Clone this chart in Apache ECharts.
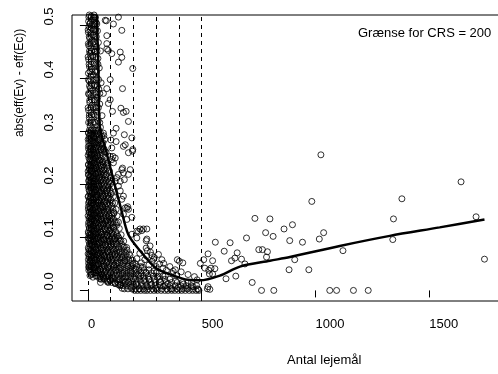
<!DOCTYPE html>
<html>
<head>
<meta charset="utf-8">
<script src="https://cdn.jsdelivr.net/npm/echarts@6/dist/echarts.min.js"></script>
<style>
  html, body { margin: 0; padding: 0; background: #fff; overflow: hidden; }
  #chart { width: 520px; height: 374px; }
</style>
</head>
<body>
<div id="chart"></div>
<script>
'use strict';

// x ticks and y ticks
const xTicks = [0, 500, 1000, 1500];
const yTicks = [0, 0.1, 0.2, 0.3, 0.4, 0.5];
// CRS boundaries (dashed)
const limits = [0, 100, 200, 300, 400, 500];

// dense band near zero
const bandPoints = [
  [6,0.52],[14,0.518],[27,0.52],[33,0.515],[3,0.508],[10,0.505],[20,0.51],[36,0.506],
  [5,0.498],[16,0.495],[24,0.5],[30,0.493],[2,0.487],[12,0.485],[22,0.482],[42,0.49],
  [8,0.476],[18,0.472],[28,0.47],[46,0.468],[4,0.462],[13,0.458],[25,0.455],[38,0.46],
  [9,0.448],[20,0.444],[31,0.45],[55,0.452],[3,0.436],[15,0.432],[27,0.43],[44,0.438],
  [7,0.422],[19,0.418],[33,0.415],[50,0.42],[2,0.41],[12,0.404],[24,0.407],[40,0.401],
  [6,0.395],[17,0.39],[30,0.388],[58,0.392],[10,0.382],[21,0.378],[36,0.375],[48,0.38],
  [4,0.37],[14,0.366],[27,0.36],[43,0.364],[8,0.355],[19,0.35],[32,0.346],[52,0.352],
  [3,0.34],[13,0.336],[24,0.333],[38,0.338],[62,0.33],[6,0.326],[16,0.322],[29,0.318],[45,0.32],
  [10,0.31],[21,0.305],[34,0.302],[55,0.308],[3,0.298],[14,0.294],[26,0.29],[40,0.296],[70,0.292],
  [7,0.286],[18,0.282],[30,0.278],[48,0.284],[62,0.276],[2,0.272],[11,0.268],[23,0.265],[36,0.27],[56,0.266],
  [5,0.26],[15,0.256],[28,0.258],[42,0.254],[75,0.262],[9,0.248],[20,0.245],[33,0.25],[50,0.246],[66,0.243],
  [3,0.238],[13,0.235],[25,0.24],[38,0.232],[58,0.236],[86,0.24],[7,0.228],[17,0.225],[30,0.23],[45,0.222],[70,0.227],
  [2,0.218],[11,0.215],[22,0.212],[35,0.22],[52,0.214],[78,0.218],[6,0.208],[16,0.204],[27,0.206],[41,0.2],[60,0.209],[92,0.205],
  [4,0.198],[13,0.194],[24,0.196],[33,0.19],[48,0.197],[68,0.192],[8,0.188],[19,0.184],[29,0.186],[40,0.18],[56,0.185],[82,0.188],[100,0.183],
  [3,0.178],[12,0.175],[22,0.172],[36,0.176],[50,0.17],[64,0.178],[90,0.174],[6,0.168],[17,0.165],[27,0.162],[44,0.166],[58,0.16],[76,0.168],[108,0.165],
  [2,0.158],[10,0.155],[20,0.152],[31,0.156],[47,0.15],[66,0.157],[85,0.153],[5,0.148],[14,0.145],[25,0.142],[38,0.147],[54,0.144],[72,0.148],[95,0.14],[115,0.146],
  [8,0.138],[18,0.135],[29,0.132],[42,0.137],[60,0.134],[80,0.131],[103,0.136],[3,0.128],[12,0.125],[23,0.122],[34,0.127],[50,0.12],[68,0.126],[88,0.123],[125,0.128],
  [6,0.118],[16,0.115],[27,0.112],[40,0.117],[57,0.11],[76,0.116],[96,0.113],[112,0.119],
  [2,0.108],[10,0.105],[21,0.102],[32,0.107],[46,0.1],[63,0.106],[84,0.104],[105,0.108],[132,0.102],
  [5,0.098],[14,0.095],[25,0.092],[37,0.097],[52,0.09],[70,0.096],[92,0.093],[118,0.097],[145,0.094],
  [8,0.088],[18,0.085],[30,0.082],[43,0.087],[59,0.08],[78,0.086],[100,0.083],[126,0.088],[160,0.082],
  [3,0.078],[12,0.075],[23,0.072],[35,0.077],[49,0.07],[66,0.076],[86,0.073],[110,0.078],[138,0.072],[172,0.076],
  [6,0.068],[16,0.065],[28,0.062],[40,0.067],[55,0.06],[73,0.066],[95,0.063],[120,0.068],[150,0.062],[185,0.066],
  [2,0.058],[10,0.055],[20,0.052],[32,0.057],[46,0.05],[62,0.056],[82,0.053],[104,0.058],[130,0.052],[162,0.056],[198,0.05],
  [7,0.048],[15,0.045],[26,0.042],[38,0.047],[53,0.04],[70,0.046],[90,0.043],[115,0.048],[142,0.042],[175,0.046],[210,0.04],[240,0.044],
  [4,0.038],[12,0.035],[30,0.033],[44,0.037],[60,0.03],[78,0.036],[98,0.033],[124,0.038],[152,0.032],[188,0.036],[222,0.03],[255,0.034],[290,0.037],
  [9,0.028],[22,0.025],[36,0.027],[52,0.022],[68,0.026],[86,0.018],[108,0.024],[135,0.02],[165,0.026],[200,0.022],[232,0.027],[268,0.021],[305,0.025],[340,0.028],
  [55,0.015],[98,0.019],[120,0.013],[145,0.01],[178,0.016],[212,0.012],[245,0.018],[280,0.011],[318,0.016],[352,0.013],[385,0.018],[420,0.012],[455,0.015],
  [150,0.004],[190,0.006],[225,0.003],[262,0.007],[298,0.004],[332,0.008],[365,0.003],[398,0.006],[430,0.004],[462,0.007],
  [205,0],[218,0],[232,0],[248,0],[260,0],[275,0],[290,0],[305,0],[322,0],[338,0],[352,0],[368,0],[382,0],[398,0],[412,0],[428,0],[445,0],[460,0],[475,0],[488,0],
  [215,0.06],[235,0.052],[250,0.058],[268,0.048],[282,0.055],[300,0.045],[315,0.05],[330,0.042],[345,0.038],[360,0.045],
  [372,0.032],[388,0.028],[410,0.035],[440,0.03],[468,0.026],[480,0.02],
  [228,0.07],[258,0.065],[275,0.072],[292,0.062],[310,0.068],[325,0.058],
  [3,0.044],[18,0.031],[54,0.025],[68,0.023],[98,0.019],[120,0.013],[142,0.011],[164,0.016],[7,0.042],[13,0.03],[86,0.016],[134,0.011]
];

// the solid core of the band, row by row: [y, x values]
const coreRows = [
  [0.516,[4,15,24,31]],[0.503,[8,19,28,39]],[0.492,[1,11,23,34]],[0.479,[6,16,26,37]],
  [0.466,[2,10,21,32]],[0.452,[7,17,29,40]],[0.441,[1,12,22,35]],[0.427,[5,14,26,44]],
  [0.413,[9,18,30,38]],[0.398,[2,13,24,35,47]],[0.386,[7,16,27,42]],[0.372,[3,11,22,33,52]],
  [0.359,[8,19,29,40]],[0.345,[1,12,24,36,46]],[0.331,[6,17,28,41]],[0.317,[3,10,21,33,52]],
  [0.303,[7,15,26,38,47]],
  [0.297,[2,11,20,31,43,55,68]],[0.291,[6,16,25,36,49,61]],[0.285,[1,9,21,30,41,53,74]],
  [0.279,[4,14,24,35,45,58,66]],[0.273,[8,17,28,39,50,63]],[0.267,[3,12,22,33,44,57,71]],
  [0.261,[7,15,26,37,48,60,80]],[0.255,[1,10,19,30,41,53,65]],[0.249,[5,14,24,34,46,58,73]],
  [0.243,[9,18,28,39,51,62,77]],[0.237,[2,12,21,32,43,55,68,88]],[0.231,[6,16,25,36,48,60,72,84]],
  [0.225,[1,10,20,30,41,52,64,78,95]],[0.219,[4,14,23,34,45,57,69,83]],[0.213,[8,17,27,38,49,61,74,90,102]],
  [0.207,[3,12,22,32,43,55,67,80,96]],[0.201,[7,16,26,36,47,59,71,86,99]],
  [0.195,[2,11,20,30,41,52,64,77,91,106]],[0.189,[5,15,25,35,46,58,70,84,97]],
  [0.183,[9,18,28,39,50,62,75,88,104]],[0.177,[1,12,22,33,44,56,68,81,94,112]],
  [0.171,[6,16,26,37,48,60,73,86,101]],[0.165,[3,13,23,34,45,57,70,83,97,118]],
  [0.159,[8,17,28,39,51,63,76,90,105]],[0.153,[2,11,21,32,43,55,67,80,94,110,124]],
  [0.147,[6,15,25,36,47,59,72,85,99,114]],[0.141,[1,10,20,31,42,54,66,79,92,107,128]],
  [0.135,[5,14,24,35,46,58,70,83,97,112]],[0.129,[9,18,28,39,50,62,75,88,102,117,134]],
  [0.123,[3,12,22,33,44,56,68,81,95,109,126]],[0.117,[7,16,26,37,48,60,73,86,100,115,138]],
  [0.111,[2,11,21,32,43,55,67,80,94,108,122]],[0.105,[6,15,25,36,47,59,72,85,99,113,128,146]],
  [0.099,[1,10,20,31,42,54,66,79,93,106,120,136]],
  [0.093,[4,14,24,35,46,58,70,83,97,110,124,140,157]],[0.087,[8,18,28,39,50,62,75,88,101,115,130,148]],
  [0.081,[2,12,22,33,44,56,68,81,94,108,122,137,155,170]],[0.075,[6,16,26,37,48,60,73,86,99,113,127,143,160]],
  [0.069,[1,10,20,31,42,54,66,79,92,106,120,134,150,168,182]],[0.063,[5,14,24,35,46,58,71,84,97,111,125,140,156,174]],
  [0.057,[9,18,28,39,50,62,75,88,102,116,130,146,163,180,196]],
  [0.051,[3,12,22,33,44,56,68,81,95,109,123,138,154,171,188,206]],
  [0.045,[7,16,26,37,48,60,73,86,100,114,128,144,160,178,194,215,232]],
  [0.039,[11,21,32,43,55,67,80,94,108,122,137,153,170,186,204,224,246,268]],
  [0.033,[25,36,47,59,72,85,99,113,127,143,160,177,194,213,234,256,280,300]],
  [0.027,[41,53,66,79,93,107,121,136,152,169,186,204,223,244,265,287,310,330]],
  [0.021,[58,71,84,98,112,126,141,157,174,191,209,228,249,270,292,315,338,360]],
  [0.015,[90,104,118,133,148,164,180,197,215,234,254,275,297,320,344,368,392,416,440]],
  [0.009,[140,155,170,186,202,219,237,256,276,296,317,339,361,384,407,431,454,478]],
  [0.003,[160,176,192,209,227,245,264,284,304,325,347,369,392,415,438,460,482]]
];

// points standing out from the band
const outerPoints = [
  [81,0.509],[112,0.503],[134,0.516],[149,0.491],[83,0.481],[83,0.456],[90,0.453],[105,0.447],
  [142,0.45],[149,0.44],[134,0.431],[197,0.419],[98,0.398],[152,0.381],[83,0.381],[68,0.372],
  [145,0.344],[156,0.336],[168,0.338],[108,0.338],[178,0.319],[124,0.306],[193,0.288],[197,0.266],
  [178,0.26],[156,0.272],[124,0.281],[110,0.253],[120,0.25],[156,0.222],[178,0.219],[186,0.228],
  [127,0.213],[142,0.206],[98,0.36],[90,0.353],[112,0.297],[101,0.284],[76,0.51],[83,0.466],
  [160,0.294],[164,0.275],[196,0.263],[105,0.269],[112,0.241],[149,0.228],[134,0.219],[160,0.209],
  [120,0.206],[134,0.197],[142,0.188],[156,0.178],[149,0.172],[164,0.156],[175,0.158],[156,0.144],
  [171,0.134],[193,0.106],[215,0.112],[229,0.116],[193,0.138],[178,0.153],[171,0.155],[152,0.231],
  [98,0.253],[105,0.247],[259,0.097],[273,0.084],
  [393,0.058],[402,0.055],[417,0.052],[333,0.051],[384,0.039],[375,0.036],[222,0.111],[237,0.113],
  [259,0.116],[244,0.116],[215,0.099],[256,0.094],[256,0.08],[261,0.075],[281,0.066],[288,0.059]
];

// large properties
const tailPoints = [
  [1024,0.256],[1640,0.205],[984,0.168],[1380,0.173],[734,0.136],[800,0.135],[1343,0.135],[1706,0.139],
  [899,0.124],[862,0.116],[781,0.109],[814,0.102],[1036,0.109],[697,0.099],[887,0.094],[943,0.091],
  [1017,0.097],[1340,0.096],[751,0.077],[767,0.077],[789,0.073],[785,0.063],[1121,0.075],[909,0.058],
  [1743,0.059],[675,0.059],[690,0.05],[884,0.039],[971,0.039],[722,0.015],[763,0],[817,0],
  [1063,0],[1093,0],[1167,0],[1232,0],
  [560,0.091],[625,0.09],[599,0.074],[656,0.071],[631,0.056],[646,0.061],[528,0.069],[548,0.056],
  [541,0.042],[558,0.041],[531,0.038],[509,0.058],[494,0.051],[607,0.022],[650,0.027],[528,0.007],
  [536,0.002],[485,0.002],[514,0.042],[534,0.031],[548,0.031],[525,0.003]
];

// smoothed curve
const smoothCurve = [
  [39,0.52],[46,0.42],[52,0.31],[82,0.26],[112,0.209],[145,0.155],[178,0.105],[229,0.075],
  [300,0.042],[376,0.028],[440,0.02],[492,0.019],[580,0.028],[668,0.045],[800,0.056],[888,0.063],
  [1107,0.084],[1327,0.103],[1546,0.119],[1743,0.134]
];

const corePoints = [];
coreRows.forEach(function(row) {
  row[1].forEach(function(x) { corePoints.push([x, row[0]]); });
});

const font = "'Liberation Sans', Arial, sans-serif";
const chart = echarts.init(document.getElementById('chart'), null, { renderer: 'canvas' });

chart.setOption({
  animation: false,
  backgroundColor: '#fff',
  grid: { left: 72, top: 15, right: 18, bottom: 73, show: true, borderColor: '#000', borderWidth: 1, containLabel: false },
  xAxis: {
    type: 'value', min: -70, max: 1820,
    splitLine: { show: false },
    axisLine: { show: false },
    axisTick: { show: true, customValues: xTicks, length: 7, lineStyle: { color: '#000' } },
    axisLabel: { customValues: xTicks, color: '#000', fontFamily: font, fontSize: 13, align: 'left', margin: 17,
      formatter: v => String(v) }
  },
  yAxis: {
    type: 'value', min: -0.02, max: 0.52,
    splitLine: { show: false },
    axisLine: { show: false },
    axisTick: { show: true, customValues: yTicks, length: 8, lineStyle: { color: '#000' } },
    axisLabel: {
      customValues: yTicks, color: '#000', fontFamily: font, fontSize: 13,
      rotate: 90, align: 'left', verticalAlign: 'middle', margin: 23,
      formatter: v => v.toFixed(1)
    }
  },
  graphic: [
    { type: 'text', x: 20, y: 83, rotation: Math.PI / 2,
      style: { text: 'abs(eff(Ev) - eff(Ec))', fill: '#000', font: '12px ' + font, textAlign: 'center', textVerticalAlign: 'middle' } },
    { type: 'text', x: 287, y: 360,
      style: { text: 'Antal lejemål', fill: '#000', font: '13px ' + font, textAlign: 'left', textVerticalAlign: 'middle' } },
    { type: 'text', x: 358, y: 33,
      style: { text: 'Grænse for CRS = 200', fill: '#000', font: '13px ' + font, textAlign: 'left', textVerticalAlign: 'middle' } }
  ],
  series: [
    {
      type: 'scatter',
      data: bandPoints.concat(corePoints, outerPoints, tailPoints),
      symbol: 'circle', symbolSize: 6, large: false,
      itemStyle: { color: 'rgba(0,0,0,0)', borderColor: '#000', borderWidth: 1 },
      clip: true, silent: true
    },
    {
      type: 'line',
      data: smoothCurve,
      showSymbol: false, smooth: 0.3, clip: true, silent: true,
      lineStyle: { color: '#000', width: 2.5 },
      markLine: {
        silent: true, symbol: 'none', label: { show: false },
        lineStyle: { color: '#000', width: 1, type: [4, 4] },
        data: limits.map(v => ({ xAxis: v }))
      }
    }
  ]
});
</script>
</body>
</html>
